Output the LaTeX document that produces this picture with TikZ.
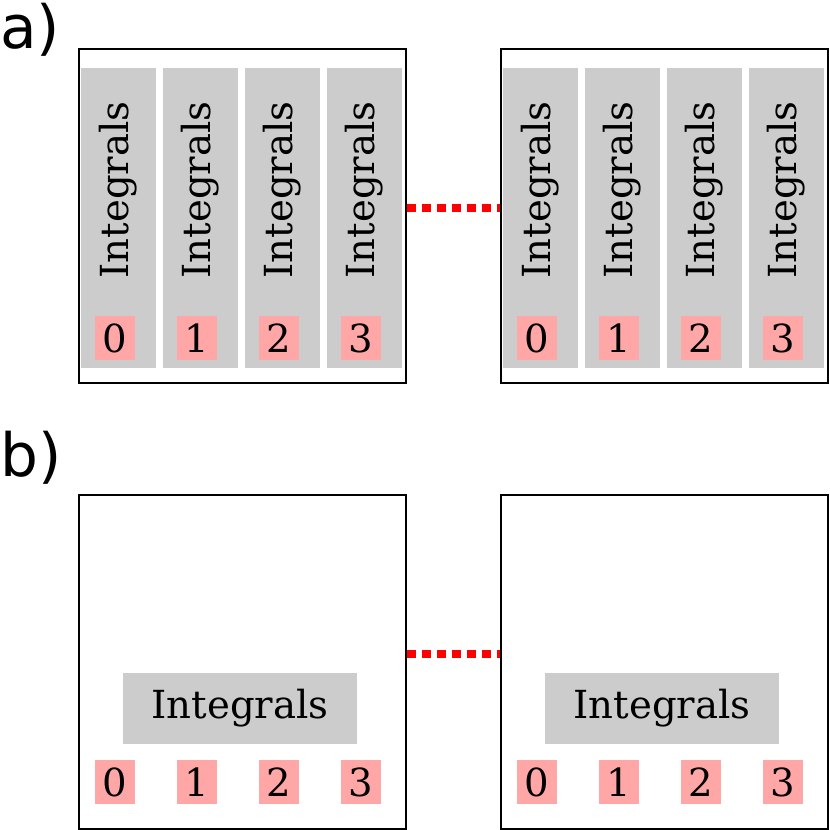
\documentclass[tikz,border=0pt]{standalone}
\usepackage{fontspec}
\setmainfont{DejaVu Serif}
\newfontfamily\labelfont{DejaVu Sans}
\tikzset{
  panel/.style={draw, line width=1.2pt},
  intbox/.style={fill=black!20, inner sep=0pt},
  numbox/.style={fill=red!35, minimum width=0.8cm, minimum height=0.88cm, inner sep=0pt, font=\fontsize{22}{24}\selectfont},
  link/.style={red, line width=5pt, dash pattern=on 5pt off 3.5pt}
}
\begin{document}
\begin{tikzpicture}[x=0.02cm, y=-0.02cm]
    \useasboundingbox (0,0) rectangle (830,830);
    % labels
    \node (la) [anchor=west, font=\labelfont\fontsize{34}{36}\selectfont] at (-6,30) {a)};
    \node (lb) [anchor=west, font=\labelfont\fontsize{34}{36}\selectfont] at (-6,458) {b)};
    % panel a
    \foreach \s/\x in {l/78, r/500} {
        \node (a\s) [panel, anchor=north west, minimum width=6.54cm, minimum height=6.68cm] at (\x,48) {};
        \foreach \i in {0,...,3} {
            \node (g\s\i) [intbox, minimum width=1.5cm, minimum height=6cm] at (\x+40.5+\i*82,218) {};
            \node (t\s\i) [rotate=90, font=\fontsize{22}{24}\selectfont] at (\x+40.5+\i*82,190) {Integrals};
            \node (n\s\i) [numbox] at (\x+37+\i*82,338) {\i};
        }
    }
    \draw[link] (al.east |- 0,208) -- (ar.west |- 0,208);
    % panel b
    \foreach \s/\x in {l/78, r/500} {
        \node (b\s) [panel, anchor=north west, minimum width=6.54cm, minimum height=6.68cm] at (\x,494) {};
        \node (tb\s) [intbox, minimum width=4.7cm, minimum height=1.42cm, font=\fontsize{22}{24}\selectfont] at (\x+162,708) {Integrals};
        \foreach \i in {0,...,3} {
            \node (m\s\i) [numbox] at (\x+37+\i*82,782) {\i};
        }
    }
    \draw[link] (bl.east |- 0,654) -- (br.west |- 0,654);
\end{tikzpicture}
\end{document}
